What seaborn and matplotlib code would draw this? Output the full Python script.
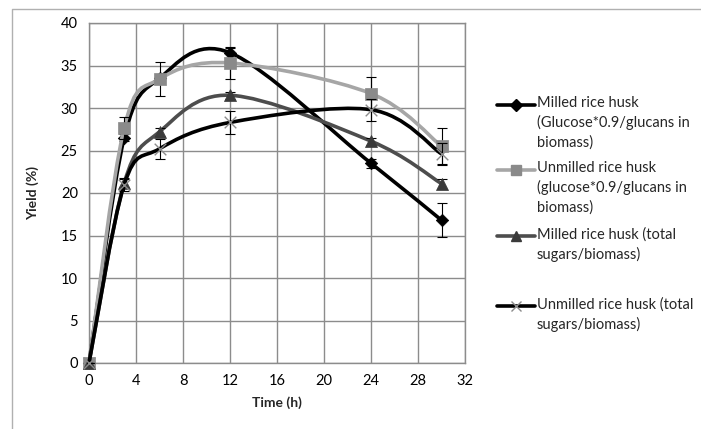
import matplotlib
matplotlib.use("Agg")
import matplotlib.pyplot as plt
import numpy as np
import seaborn as sns
from matplotlib.path import Path
from matplotlib.patches import PathPatch
from matplotlib.lines import Line2D

# data
time_h = [0, 3, 6, 12, 24, 30]
milled_glc = [0, 26.5, 33.5, 36.5, 23.5, 16.8]
milled_glc_err = [0, 0.4, 0.4, 0.6, 0.5, 2.0]
unmilled_glc = [0, 27.7, 33.4, 35.3, 31.7, 25.5]
unmilled_glc_err = [0, 1.3, 2.0, 1.9, 1.9, 2.1]
milled_tot = [0, 21.2, 27.2, 31.5, 26.1, 21.1]
milled_tot_err = [0, 0.5, 0.5, 0.4, 0.4, 0.6]
unmilled_tot = [0, 21.0, 25.2, 28.3, 29.8, 24.6]
unmilled_tot_err = [0, 0.8, 1.2, 1.3, 1.3, 1.3]

labels = ["Milled rice husk\n(Glucose*0.9/glucans in\nbiomass)",
          "Unmilled rice husk\n(glucose*0.9/glucans in\nbiomass)",
          "Milled rice husk (total\nsugars/biomass)",
          "Unmilled rice husk (total\nsugars/biomass)"]

sns.set_style("white")
plt.rcParams['font.family'] = ['Lato', 'DejaVu Sans']

fig = plt.figure(figsize=(7.01, 4.29), dpi=100)
ax = fig.add_axes([89/701, 1-363/429, (465-89)/701, (363-23)/429])


def smooth_path(x, y):
    # excel style smoothed line as bezier segments
    pts = np.column_stack([x, y]).astype(float)
    n = len(pts)
    verts = [pts[0]]
    codes = [Path.MOVETO]
    for i in range(n-1):
        p0 = pts[max(i-1, 0)]
        p1 = pts[i]
        p2 = pts[i+1]
        p3 = pts[min(i+2, n-1)]
        c1 = p1 + (p2 - p0)/6
        c2 = p2 - (p3 - p1)/6
        verts += [c1, c2, p2]
        codes += [Path.CURVE4]*3
    return Path(verts, codes)


series = [
    (milled_glc, milled_glc_err, "#000000", "D", 40, "#000000"),
    (unmilled_glc, unmilled_glc_err, "#a6a6a6", "s", 75, "#8a8a8a"),
    (milled_tot, milled_tot_err, "#4d4d4d", "^", 75, "#3a3a3a"),
    (unmilled_tot, unmilled_tot_err, "#000000", "x", 70, "#8c8c8c"),
]

for k, (vals, err, col, mk, size, mcol) in enumerate(series):
    z = 3 + k*2
    ax.add_patch(PathPatch(smooth_path(time_h, vals), fill=False, edgecolor=col,
                           lw=2.6, zorder=z, clip_on=False, capstyle='round'))
    ax.errorbar(time_h, vals, yerr=err, fmt='none', ecolor='black', elinewidth=0.8,
                capsize=3.5, capthick=0.8, zorder=z+0.5)
    if mk == "x":
        sns.scatterplot(x=time_h, y=vals, marker=mk, s=size, color=mcol, linewidth=1.0,
                        ax=ax, zorder=z+1, clip_on=False)
    else:
        sns.scatterplot(x=time_h, y=vals, marker=mk, s=size, color=mcol, edgecolor=mcol,
                        linewidth=0.5, ax=ax, zorder=z+1, clip_on=False)

ax.set_xlim(0, 32)
ax.set_ylim(0, 40)
ax.set_xticks(range(0, 33, 4))
ax.set_yticks(range(0, 41, 5))
ax.grid(True, color="#8c8c8c", lw=1.0)
ax.set_axisbelow(True)
for s in ax.spines.values():
    s.set_color("#8c8c8c")
    s.set_linewidth(1.0)
ax.tick_params(length=0, labelsize=10.5, pad=8, colors="#000000")
ax.set_xlabel("Time (h)", fontsize=10, fontweight="bold", labelpad=6)
ax.set_ylabel("Yield (%)", fontsize=10, fontweight="bold", labelpad=16)

# legend drawn by hand so the marker lines up with the first text line
leg_y = [105, 170, 236, 306]
for k, (vals, err, col, mk, size, mcol) in enumerate(series):
    yy = 1 - leg_y[k]/429
    fig.add_artist(Line2D([497/701, 535/701], [yy, yy], color=col, lw=2.6,
                          transform=fig.transFigure))
    fig.add_artist(Line2D([516/701], [yy], marker=mk, markersize=np.sqrt(size)*0.9,
                          color=mcol, markeredgecolor=mcol, lw=0,
                          transform=fig.transFigure))
    fig.text(537/701, yy + 9/429, labels[k], fontsize=10.5, va="top", ha="left",
             linespacing=1.45)

# chart frame
fig.add_artist(Line2D([12/701, 12/701, 1], [0, 1-9/429, 1-9/429], color="#b0b0b0",
                      lw=1.0, transform=fig.transFigure))

fig.savefig("out.png", dpi=100)
